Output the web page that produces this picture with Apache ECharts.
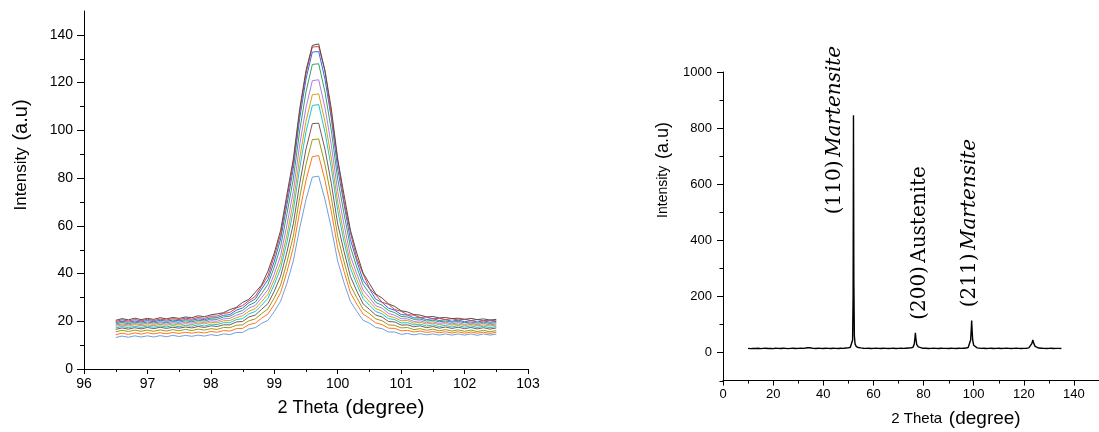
<!DOCTYPE html>
<html><head><meta charset="utf-8">
<script src="https://cdn.jsdelivr.net/npm/echarts@6/dist/echarts.min.js"></script>
<style>html,body{margin:0;padding:0;background:#fff}#c{width:1099px;height:432px}</style>
</head><body><div id="c"></div>
<script>
// ---------- Left chart data: 2 Theta grid and 11 intensity curves ----------
const thetaX = [96.5,96.6,96.7,96.8,96.9,97.0,97.1,97.2,97.3,97.4,97.5,97.6,97.7,97.8,97.9,98.0,98.1,98.2,98.3,98.4,98.5,98.6,98.7,98.8,98.9,99.0,99.1,99.2,99.3,99.4,99.5,99.6,99.7,99.8,99.9,100.0,100.1,100.2,100.3,100.4,100.5,100.6,100.7,100.8,100.9,101.0,101.1,101.2,101.3,101.4,101.5,101.6,101.7,101.8,101.9,102.0,102.1,102.2,102.3,102.4,102.5];

const curve1 = [20.4,21.1,20.6,21.3,20.7,21.2,20.8,21.5,21.0,21.6,21.2,21.8,21.5,22.3,21.9,22.7,23.1,23.6,24.9,25.8,27.9,29.2,32.1,35.2,41.0,48.6,58.1,73.2,88.0,108.9,125.1,135.6,
  136.2,124.8,108.9,87.9,72.9,58.2,48.6,40.2,35.8,31.4,29.7,27.3,26.2,24.4,23.9,22.8,22.6,21.8,22.0,21.4,21.6,21.1,21.3,20.8,21.2,20.7,21.0,20.5,20.8];
const curve2 = [19.9,20.6,20.1,20.7,20.2,20.8,20.3,20.9,20.5,21.1,20.7,21.3,20.9,21.6,21.2,22.1,22.2,23.3,23.7,25.5,26.6,28.6,30.4,34.7,39.0,47.3,56.4,71.4,86.3,107.5,123.8,134.9,
  135.1,124.9,106.3,87.4,70.2,57.3,46.4,39.8,33.9,31.0,28.0,27.1,24.9,24.2,22.7,22.6,21.6,21.8,21.0,21.3,20.7,21.1,20.5,20.9,20.3,20.7,20.2,20.5,20.1];
const curve3 = [19.5,20.0,19.6,20.1,19.7,20.3,19.8,20.4,20.0,20.5,20.2,20.7,20.4,21.0,20.7,21.4,21.5,22.5,22.8,24.6,25.6,27.8,29.3,33.5,37.4,45.1,54.5,68.9,84.0,104.9,121.5,132.8,
  133.0,121.4,104.9,83.8,69.0,54.3,45.3,37.2,33.6,29.2,27.9,25.5,24.6,22.8,22.6,21.4,21.5,20.7,21.1,20.3,20.7,20.0,20.5,19.8,20.3,19.7,20.2,19.6,20.0];
const curve4 = [18.9,19.5,19.0,19.6,19.2,19.7,19.3,19.8,19.4,19.9,19.6,20.2,19.8,20.4,20.1,20.9,20.8,21.8,22.1,23.6,24.5,26.7,28.0,31.6,35.5,42.7,51.3,65.1,79.6,99.8,116.1,127.6,
  127.9,116.0,99.8,79.5,65.0,51.2,42.7,35.4,31.7,27.9,26.7,24.5,23.6,22.0,21.8,20.8,20.9,20.1,20.4,19.8,20.1,19.6,19.9,19.4,19.7,19.2,19.6,19.1,19.4];
const curve5 = [18.4,18.9,18.5,19.1,18.6,19.2,18.7,19.3,18.8,19.4,19.0,19.6,19.2,19.8,19.5,20.2,20.0,21.0,21.2,22.5,23.4,25.5,26.6,29.9,33.2,39.8,47.5,60.4,74.5,93.8,109.6,120.8,
  121.2,109.4,93.7,74.4,60.5,47.4,39.9,33.1,29.9,26.5,25.5,23.3,22.5,21.1,21.0,19.9,20.2,19.4,19.8,19.1,19.6,18.9,19.4,18.7,19.2,18.6,19.1,18.5,18.9];
const curve6 = [17.9,18.4,18.0,18.6,18.1,18.5,18.2,18.7,18.3,18.8,18.4,19.0,18.6,19.2,18.9,19.6,19.3,20.2,20.3,21.5,22.3,24.2,25.3,28.2,31.3,37.4,44.6,56.2,70.0,88.3,103.8,114.9,
  115.3,103.6,88.3,69.9,56.3,44.5,37.5,31.2,28.2,25.3,24.2,22.2,21.5,20.2,20.3,19.2,19.6,18.8,19.2,18.6,19.0,18.4,18.8,18.2,18.7,18.1,18.5,18.0,18.4];
const curve7 = [17.2,17.8,17.3,17.9,17.4,18.0,17.5,18.1,17.6,18.2,17.7,18.3,17.9,18.5,18.0,18.8,18.6,19.4,19.4,20.7,21.1,23.1,24.1,26.7,29.6,35.4,42.2,53.2,66.3,84.1,99.4,110.4,
  110.8,99.2,84.1,66.4,53.3,42.2,35.5,29.5,26.7,24.1,23.1,21.1,20.7,19.3,19.4,18.5,18.8,18.0,18.5,17.8,18.3,17.6,18.2,17.5,18.1,17.4,17.9,17.3,17.8];
const curve8 = [16.6,17.2,16.7,17.3,16.8,17.4,16.9,17.5,17.0,17.5,17.1,17.6,17.2,17.8,17.4,18.1,17.8,18.5,18.5,19.7,19.9,21.8,22.6,25.0,27.4,32.6,38.9,49.1,60.8,77.6,92.2,102.8,
  103.0,92.0,77.6,60.7,49.2,38.8,32.7,27.3,25.0,22.6,21.8,19.9,19.7,18.4,18.5,17.7,18.1,17.3,17.8,17.1,17.6,17.0,17.5,16.9,17.4,16.8,17.3,16.7,17.2];
const curve9 = [15.6,16.2,15.7,16.3,15.8,16.3,15.8,16.4,15.9,16.5,16.0,16.6,16.1,16.7,16.3,16.9,16.6,17.4,17.3,18.3,18.5,20.2,21.0,23.2,25.2,29.8,35.2,44.8,55.7,71.8,85.7,96.1,
  96.4,85.6,71.7,55.6,44.9,35.1,29.9,25.1,23.2,21.0,20.2,18.5,18.3,17.2,17.4,16.5,16.9,16.2,16.7,16.0,16.5,15.9,16.4,15.8,16.3,15.7,16.2,15.6,16.1];
const curve10 = [14.4,15.0,14.5,15.1,14.6,15.2,14.7,15.2,14.8,15.3,14.9,15.4,15.0,15.5,15.1,15.7,15.4,16.1,15.9,16.9,17.0,18.6,19.2,21.3,23.0,27.1,32.0,40.8,50.9,65.9,79.1,89.0,
  89.4,79.0,65.9,50.8,40.9,31.9,27.2,23.0,21.3,19.3,18.6,17.1,17.0,16.0,16.2,15.5,15.9,15.3,15.7,15.2,15.6,15.1,15.6,15.0,15.5,15.0,15.4,14.9,15.4];
const curve11 = [13.2,13.8,13.3,13.9,13.4,13.9,13.4,14.0,13.5,14.1,13.6,14.1,13.7,14.2,13.8,14.4,14.0,14.7,14.4,15.3,15.3,16.8,17.3,19.1,20.4,24.1,28.4,36.0,45.3,59.0,71.0,80.4,
  80.8,70.9,59.0,45.2,36.1,28.3,24.2,20.4,19.2,17.4,16.9,15.5,15.5,14.5,14.9,14.3,14.8,14.3,14.7,14.2,14.7,14.2,14.7,14.2,14.7,14.1,14.7,14.2,14.6];

const leftXTicks = [96,97,98,99,100,101,102,103];
const leftXMinor = [96.5,97.5,98.5,99.5,100.5,101.5,102.5];
const leftYTicks = [0,20,40,60,80,100,120,140];
const leftYMinor = [10,30,50,70,90,110,130];

// ---------- Right chart data: XRD pattern (2 Theta, intensity) ----------
const xrdPoints = [
 [10,15],[11,14],[12,15],[13,14.5],[14,15.5],[15,14],[16,15],[17,15.5],[18,14.5],[19,15],[20,14],[21,15.5],[22,15],[23,14.5],[24,15.5],[25,15],[26,14],[27,15],[28,15.5],[29,14.5],[30,15],[31,15.5],[32,15],[33,16],
 [33.8,17],[34.2,24],[34.6,17],[35,16],[36,15],[37,14.5],[38,15.5],[39,15],[40,14.5],[41,15.5],[42,15],[43,14.5],[44,15.5],[45,15],[46,14.5],[47,15.5],[48,15],[49,16],[50,16.5],
 [50.8,19],[51.3,24],[51.7,45],[51.9,200],[52.05,846],[52.2,260],[52.4,60],[52.7,30],[53.2,21],[54,18],[55,16.5],[56,15.5],[57,15],[58,15.5],[59,14.5],[60,15],[61,15.5],[62,15],[63,14.5],[64,15.5],[65,15],[66,14.5],[67,15],[68,15.5],[69,14.5],[70,15],[71,15.5],[72,15],[73,15.5],[74,16],[75,16.5],
 [75.8,19],[76.3,30],[76.55,50],[76.75,70],[76.95,50],[77.3,28],[77.9,20],[78.6,17],[79.5,15.5],[80,15],[81,15.5],[82,14.5],[83,15],[84,15.5],[85,15],[86,14.5],[87,15.5],[88,15],[89,15],[90,14.5],[91,15.5],[92,15],[93,14.5],[94,15.5],[95,15],[96,15.5],[97,16],
 [97.8,18],[98.4,24],[98.8,45],[99.05,85],[99.2,114],[99.35,85],[99.6,45],[100,26],[100.6,19],[101.4,16.5],[102,15.5],[103,15],[104,15.5],[105,14.5],[106,15],[107,15.5],[108,14.5],[109,15],[110,15.5],[111,14.5],[112,15],[113,15.5],[114,15],[115,14.5],[116,15],[117,15.5],[118,15],[119,14.5],[120,15],[121,15.5],[122,16.5],
 [122.7,21],[123.2,32],[123.6,45],[124,32],[124.5,22],[125.2,18],[126,16],[127,15.5],[128,15],[129,14.5],[130,15],[131,15.5],[132,14.5],[133,15],[134,15],[135,14.5]
];
const rightXTicks = [0,20,40,60,80,100,120,140];
const rightXMinor = [10,30,50,70,90,110,130];
const rightYTicks = [0,200,400,600,800,1000];
const rightYMinor = [-100,100,300,500,700,900];

const peakLabels = [
  {n:'(110)', t:'Martensite', italic:true},
  {n:'(200)', t:'Austenite', italic:false},
  {n:'(211)', t:'Martensite', italic:true}
];

// ---------- styles ----------
const curves = [curve11,curve10,curve9,curve8,curve7,curve6,curve5,curve4,curve3,curve2,curve1];
const curveColors = ['#6fa0dc','#ff761c','#9c9a12','#7c5858','#1cc6d0','#d6a214','#b07ae8','#38a060','#2a6ef0','#f03a3a','#505050'];
const SANS = 'Liberation Sans, Arial, sans-serif';
const axisLine = {show:true, onZero:false, lineStyle:{color:'#000', width:1}};
const plain = v => String(v);

const leftSeries = curves.map((ys, i) => ({
  type:'line', xAxisIndex:0, yAxisIndex:0, silent:true,
  data: ys.map((y, j) => [thetaX[j], y]),
  showSymbol:false, symbol:'none',
  lineStyle:{width:1, color:curveColors[i]}, itemStyle:{color:curveColors[i]}
}));

const peakPos = [[835,130],[920,243],[970,223]];
const annot = peakLabels.map((p, i) => ({
  type:'text', x:peakPos[i][0], y:peakPos[i][1], rotation:Math.PI/2,
  style:{
    text:'{n|' + p.n + '} {t|' + p.t + '}',
    align:'center', verticalAlign:'middle', textAlign:'center', textVerticalAlign:'middle',
    rich:{
      n:{fontSize:20, fontFamily:'DejaVu Serif', fill:'#000', color:'#000'},
      t:{fontSize:20, fontFamily:'DejaVu Serif', fontStyle:p.italic?'italic':'normal', fill:'#000', color:'#000'}
    }
  }
}));

function title(x, y, a, b, sa, sb, rot){
  return {
    type:'text', x:x, y:y, rotation:rot||0,
    style:{
      text:'{a|' + a + '}  {b|' + b + '}',
      align:'center', verticalAlign:'middle', textAlign:'center', textVerticalAlign:'middle',
      rich:{
        a:{fontSize:sa, fontFamily:SANS, fill:'#000', color:'#000'},
        b:{fontSize:sb, fontFamily:SANS, fill:'#000', color:'#000'}
      }
    }
  };
}

const baseGraphics = [
  title(351, 408, '2 Theta', '(degree)', 18, 21),
  title(21, 155, 'Intensity', '(a.u)', 17, 20, Math.PI/2),
  title(956, 419, '2 Theta', '(degree)', 15, 19),
  title(663, 170, 'Intensity', '(a.u)', 14, 18, Math.PI/2)
].concat(annot);

const option = {
  animation:false,
  backgroundColor:'#fff',
  grid:[
    {left:84, top:11, width:444, height:358},
    {left:723, top:72, width:383, height:308.6}
  ],
  xAxis:[
    {type:'value', gridIndex:0, position:'bottom', min:96, max:103,
     axisLine:axisLine, splitLine:{show:false},
     axisTick:{show:true, length:5, customValues:leftXTicks, lineStyle:{color:'#000'}},
     axisLabel:{fontSize:14, margin:8, color:'#000', fontFamily:SANS, customValues:leftXTicks, formatter:plain}},
    {type:'value', gridIndex:1, position:'bottom', min:0, max:150,
     axisLine:axisLine, splitLine:{show:false},
     axisTick:{show:true, length:5, customValues:rightXTicks, lineStyle:{color:'#000'}},
     axisLabel:{fontSize:13, margin:7, color:'#000', fontFamily:SANS, customValues:rightXTicks, formatter:plain}}
  ],
  yAxis:[
    {type:'value', gridIndex:0, position:'left', min:0, max:150,
     axisLine:axisLine, splitLine:{show:false},
     axisTick:{show:true, length:7, customValues:leftYTicks, lineStyle:{color:'#000'}},
     axisLabel:{fontSize:14, margin:11, color:'#000', fontFamily:SANS, customValues:leftYTicks, formatter:plain}},
    {type:'value', gridIndex:1, position:'left', min:-100, max:1000,
     axisLine:axisLine, splitLine:{show:false},
     axisTick:{show:true, length:6, customValues:rightYTicks, lineStyle:{color:'#000'}},
     axisLabel:{fontSize:13, margin:11, color:'#000', fontFamily:SANS, customValues:rightYTicks, formatter:plain}}
  ],
  series: leftSeries.concat([
    {type:'line', xAxisIndex:1, yAxisIndex:1, silent:true,
     data: xrdPoints, showSymbol:false, symbol:'none',
     lineStyle:{width:1.4, color:'#000'}, itemStyle:{color:'#000'}}
  ]),
  graphic: baseGraphics
};

const chart = echarts.init(document.getElementById('c'), null, {renderer:'canvas'});
chart.setOption(option);

// minor ticks: positions come from the axes' own scales via convertToPixel
const minorEls = [];
function addMinor(finder, vals, toPoint, dir, len){
  vals.forEach(v => {
    const p = chart.convertToPixel(finder, toPoint(v));
    if (!p) return;
    if (dir === 'y') {
      const y = Math.round(p[1]) + 0.5;
      minorEls.push({type:'line', silent:true, z:10, shape:{x1:p[0]-len, y1:y, x2:p[0], y2:y}, style:{stroke:'#000', lineWidth:1}});
    } else {
      const x = Math.round(p[0]) + 0.5;
      minorEls.push({type:'line', silent:true, z:10, shape:{x1:x, y1:p[1], x2:x, y2:p[1]+len}, style:{stroke:'#000', lineWidth:1}});
    }
  });
}
addMinor({xAxisIndex:0, yAxisIndex:0}, leftYMinor, v => [96, v], 'y', 4);
addMinor({xAxisIndex:0, yAxisIndex:0}, leftXMinor, v => [v, 0], 'x', 3);
addMinor({xAxisIndex:1, yAxisIndex:1}, rightYMinor, v => [0, v], 'y', 3.5);
addMinor({xAxisIndex:1, yAxisIndex:1}, rightXMinor, v => [v, -100], 'x', 3);
chart.setOption({graphic: baseGraphics.concat(minorEls)});
</script>
</body></html>
